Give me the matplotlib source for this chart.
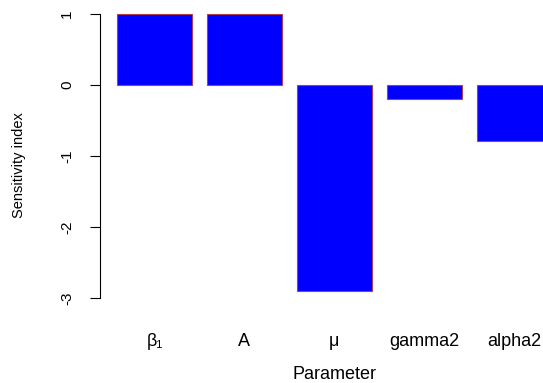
import matplotlib
matplotlib.use("Agg")
import matplotlib.pyplot as plt
import numpy as np

plt.rcParams['font.family'] = ['Liberation Sans', 'DejaVu Sans']

# Sensitivity indices per model parameter
parameters = ["β₁", "A", "μ", "gamma2", "alpha2"]
sensitivity = [1.0, 1.0, -2.9, -0.2, -0.79]
yticks = [-3, -2, -1, 0, 1]

fig = plt.figure(figsize=(5.43, 3.83), dpi=100)
ax = fig.add_axes([0.1834, 0.2115, 0.8645, 0.7807])

# barplot layout: unit-width bars separated by 0.2 gaps
centers = 0.7 + 1.2 * np.arange(len(parameters))
ax.bar(centers, sensitivity, width=1.0, color="#0000ff",
       edgecolor="#b0404c", linewidth=0.8)

ax.set_xlim(-0.032, 6.232)
ax.set_ylim(-3.056, 1.156)

for s in ("top", "right", "bottom"):
    ax.spines[s].set_visible(False)
ax.spines["left"].set_bounds(-3, 1)
ax.spines["left"].set_linewidth(0.8)

ax.set_yticks(yticks)
ax.set_yticklabels([str(v) for v in yticks], rotation=90, va="center", fontsize=11)
ax.tick_params(axis="y", length=7.5, width=0.8, pad=11)

ax.set_xticks(centers)
ax.set_xticklabels(parameters, fontsize=13)
ax.tick_params(axis="x", length=0, pad=22)

ax.set_xlabel("Parameter", fontsize=13, labelpad=12)
ax.set_ylabel("Sensitivity index", fontsize=10.5)
ax.yaxis.set_label_coords(-0.157, 0.458)

fig.savefig("out.png", dpi=100)
